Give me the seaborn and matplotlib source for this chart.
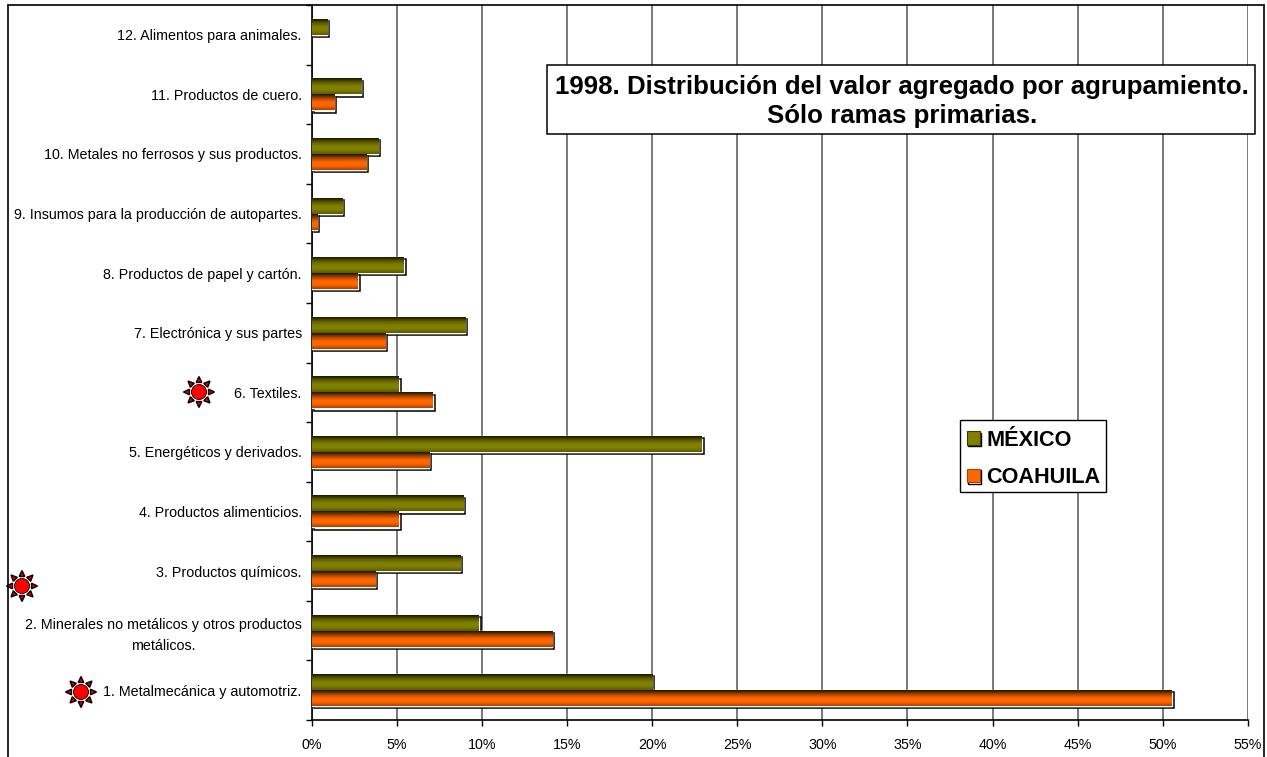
import numpy as np
import pandas as pd
import matplotlib
matplotlib.use('Agg')
import matplotlib.pyplot as plt
import matplotlib.patheffects as pe
from matplotlib.colors import LinearSegmentedColormap
from matplotlib.lines import Line2D
from matplotlib.patches import Patch, Polygon, Circle, Rectangle
from matplotlib.transforms import IdentityTransform
import seaborn as sns

# datos
categorias = ['12. Alimentos para animales.', '11. Productos de cuero.',
              '10. Metales no ferrosos y sus productos.',
              '9. Insumos para la producción de autopartes.',
              '8. Productos de papel y cartón.', '7. Electrónica y sus partes',
              '6. Textiles.', '5. Energéticos y derivados.',
              '4. Productos alimenticios.', '3. Productos químicos.',
              '2. Minerales no metálicos y otros productos\nmetálicos.',
              '1. Metalmecánica y automotriz.']
mexico = [0.9, 2.9, 3.9, 1.8, 5.4, 9.0, 5.1, 22.9, 8.9, 8.7, 9.8, 20.0]
coahuila = [np.nan, 1.3, 3.2, 0.3, 2.7, 4.3, 7.1, 6.9, 5.1, 3.7, 14.1, 50.5]
xticks = list(range(0, 60, 5))

W, H = 1267, 757
sns.set_theme(style='white')
plt.rcParams['font.family'] = ['Liberation Sans', 'DejaVu Sans']

df = pd.DataFrame({'cat': categorias, 'MÉXICO': mexico, 'COAHUILA': coahuila})
df = df.melt(id_vars='cat', var_name='serie', value_name='valor')

fig = plt.figure(figsize=(W / 100, H / 100), dpi=100)
ax = fig.add_axes([311.5 / W, 1 - 720 / H, (1248 - 311.5) / W, 715 / H])
colores = {'MÉXICO': '#808000', 'COAHUILA': '#FF6600'}
sns.barplot(data=df, y='cat', x='valor', hue='serie', order=categorias,
            hue_order=['MÉXICO', 'COAHUILA'], palette=colores, orient='h',
            width=0.537, gap=0, legend=False, saturation=1, errorbar=None, ax=ax, zorder=3)

ax.set_xlim(0, 55)
ax.set_ylim(len(categorias) - 0.5, -0.5)
ax.set_xlabel('')
ax.set_ylabel('')

# rejilla y ejes
ax.set_xticks(xticks)
ax.set_xticklabels([f'{t}%' for t in xticks], fontsize=10.3, color='black')
ax.grid(axis='x', color='#555555', lw=1.1, zorder=0)
ax.grid(axis='y', visible=False)
ax.set_axisbelow(True)
ax.tick_params(axis='x', length=4, width=1, color='black', pad=9, bottom=True)
ax.tick_params(axis='y', which='major', length=0, pad=7, labelsize=10.3, labelcolor='black')
ax.set_yticks(np.arange(-0.5, len(categorias) + 0.5), minor=True)
ax.tick_params(axis='y', which='minor', length=4, width=1, color='black', left=True)
for s in ['top', 'right']:
    ax.spines[s].set_visible(False)
for s in ['left', 'bottom']:
    ax.spines[s].set_color('black')
    ax.spines[s].set_linewidth(1.2)
for t in ax.get_yticklabels():
    t.set_multialignment('center')
    t.set_linespacing(1.65)

# degradado y sombra blanca de cada barra
def degradado(c_oscuro, c_medio):
    return LinearSegmentedColormap.from_list('g', ['#1a1a00', c_oscuro, c_medio, c_medio, c_oscuro])

mapas = {'#808000': degradado('#5c5c00', '#808000'), '#ff6600': degradado('#a84300', '#FF6600')}
gy = np.linspace(0, 1, 32).reshape(-1, 1)
for p in list(ax.patches):
    x0, w, y0, h = p.get_x(), p.get_width(), p.get_y(), p.get_height()
    if not np.isfinite(w) or w == 0:
        continue
    c = matplotlib.colors.to_hex(p.get_facecolor())
    p.set_path_effects([pe.PathPatchEffect(offset=(1.6, -1.6), facecolor='white', edgecolor='black', linewidth=1.1),
                        pe.Normal()])
    ax.imshow(gy, extent=[x0, x0 + w, y0 + h, y0], aspect='auto', cmap=mapas[c], zorder=4, interpolation='bilinear')
ax.set_xlim(0, 55)
ax.set_ylim(len(categorias) - 0.5, -0.5)

# título
fig.text(902 / W, 1 - 101.5 / H, '1998. Distribución del valor agregado por agrupamiento.\nSólo ramas primarias.',
         ha='center', va='center', fontsize=18.6, fontweight='bold', color='black', linespacing=1.26, zorder=5)
fig.patches.append(Rectangle((547 / W, 1 - 134 / H), 708 / W, 69 / H, transform=fig.transFigure,
                             fc='white', ec='black', lw=1.1, zorder=2))

# leyenda
fig.patches.append(Rectangle((960 / W, 1 - 492 / H), 146 / W, 72 / H, transform=fig.transFigure,
                             fc='white', ec='black', lw=1.0, zorder=2))
sombra = [pe.PathPatchEffect(offset=(1, -1), facecolor='white', edgecolor='black', linewidth=1), pe.Normal()]
manejadores = [Patch(facecolor='#808000', edgecolor='#3a3a00', lw=0.8, path_effects=sombra),
               Patch(facecolor='#FF6600', edgecolor='#a84300', lw=0.8, path_effects=sombra)]
ley = fig.legend(manejadores, ['MÉXICO', 'COAHUILA'], loc='center', bbox_to_anchor=(1033.5 / W, 1 - 459 / H),
                 frameon=False, prop={'weight': 'bold', 'size': 15.6}, handlelength=0.6, handleheight=0.6,
                 handletextpad=0.3, labelspacing=0.76, borderpad=0.33, labelcolor='black')
ley.set_zorder(6)

# marco exterior
for xs, ys in [((7.5, 7.5), (757, 5)), ((7.5, 1263.5), (5, 5)), ((1263.5, 1263.5), (5, 757))]:
    fig.add_artist(Line2D([x / W for x in xs], [1 - y / H for y in ys], color='black', lw=1.2))

# soles rojos
def sol(cx, cy):
    cy = H - cy
    tr = IdentityTransform()
    for a in np.arange(8) * np.pi / 4:
        u = np.array([np.cos(a), np.sin(a)])
        v = np.array([-u[1], u[0]])
        c = np.array([cx, cy])
        tri = [c + u * 9.5 + v * 2.8, c + u * 9.5 - v * 2.8, c + u * 15.5]
        fig.add_artist(Polygon(tri, closed=True, transform=tr, fc='#d00000', ec='black', lw=1.0))
    fig.add_artist(Circle((cx, cy), 7.5, transform=tr, fc='#ff0000', ec='black', lw=0.6))

for cx, cy in [(199, 392), (22, 586), (81, 692)]:
    sol(cx, cy)

fig.savefig('out.png', dpi=100)
